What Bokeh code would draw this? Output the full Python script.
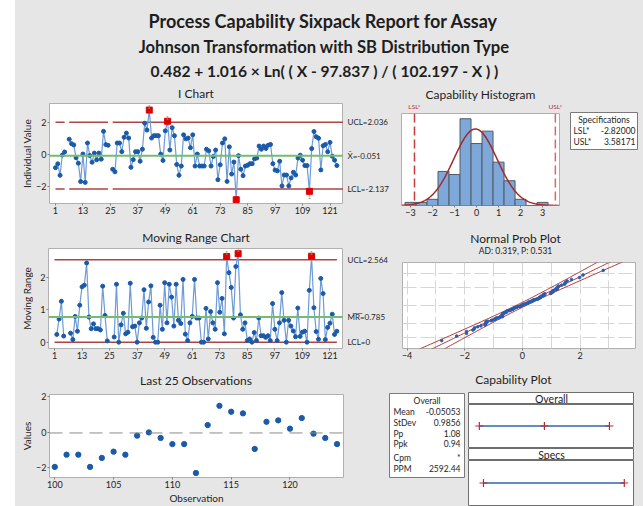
import numpy as np
from statistics import NormalDist
from bokeh.plotting import figure
from bokeh.layouts import column, row
from bokeh.models import Label, Span, FixedTicker, Grid, Range1d
from bokeh.core.properties import value
from bokeh.embed import file_html
from bokeh.resources import INLINE

nan = float("nan")

# ---------------- data ----------------
observation = list(range(1, 125))
transformed_value = [
    -0.80, -0.56, -1.28, -0.01, 0.18, nan, 0.98, 0.70, 0.62, -0.18,
    -0.52, -1.67, 0.05, -1.72, 0.74, -0.04, -0.46, 0.11, -0.31, 0.11,
    -0.27, 1.47, 0.64, 0.60, nan, -0.90, -1.06, 0.74, 0.74, 0.20,
    1.10, 1.36, 1.05, -0.78, -0.30, 0.20, 0.20, -0.40, 0.35, 1.98,
    1.55, 2.80, 1.05, 1.20, 1.20, 1.20, 0.05, -0.35, 1.50, 2.10,
    0.30, 1.70, 1.20, -0.60, -1.28, -0.70, 1.25, 1.00, 1.05, 0.45,
    1.25, -0.70, 0.05, -0.70, -0.70, -0.70, 0.35, 0.25, -0.70, -0.10,
    0.30, -1.55, -0.62, 0.74, 1.00, -1.66, 0.50, -1.20, -0.45, -2.80,
    -0.05, -0.90, -1.30, -0.70, -0.65, -0.55, -0.55, -0.25, -0.20, 0.55,
    0.35, 0.55, 0.40, 0.60, 0.65, -0.55, -0.95, -1.00, -0.40, -1.94,
    -1.26, -1.26, -1.94, -1.44, -1.09, -1.26, -0.20, -0.02, -0.33, -0.67,
    -0.67, -2.28, 0.39, 1.46, 1.13, 1.04, -0.94, 0.57, 0.65, 0.19,
    0.78, -0.09, -0.33, -0.67,
]
i_ucl, i_center, i_lcl = 2.036, -0.051, -2.137
mr_ucl, mr_center, mr_lcl = 2.564, 0.785, 0.0
chart_ticks = [1, 13, 25, 37, 49, 61, 73, 85, 97, 109, 121]
i_yticks = [-2, 0, 2]
mr_yticks = [0, 1, 2]
last_n = 25
last_ticks = [100, 105, 110, 115, 120]
hist_ticks = [-3, -2, -1, 0, 1, 2, 3]
hist_bin_width = 0.5
hist_first_edge = -3.25
hist_bins = 13
prob_ticks = [-4, -2, 0, 2]
prob_vgrid = [-4, -3, -2, -1, 0, 1, 2, 3]
prob_grid_percents = [1, 10, 50, 90, 99]
lsl, usl = -2.82, 3.58171
overall_mean, overall_stdev = -0.05053, 0.9856
pp, ppk, ppm = 1.08, 0.94, 2592.44
ad_stat, p_value = 0.319, 0.531
stat_names = ["Mean", "StDev", "Pp", "Ppk", "Cpm", "PPM"]
stat_texts = [f"{overall_mean:.5f}", f"{overall_stdev:.4f}", f"{pp:.2f}", f"{ppk:.2f}", "*", f"{ppm:.2f}"]

# ---------------- styling ----------------
BG = "#e6e6e6"
FONT = "Lato"
TXT = "#1e1e1e"
LINE_BLUE = "#6c9bd6"
PT_BLUE = "#1a5aa8"
RED_LIM = "#b04444"
GREEN = "#72bd6f"
OOC = "#e00000"
FLAG = "#8c8c64"
FRAME = "#b0b0b0"
UNIT = (0, 1)

vals = np.array(transformed_value, dtype=float)
obs = np.array(observation, dtype=float)
valid = ~np.isnan(vals)


def R(*c):
    return row(*c, styles={"background-color": BG})


def C(*c):
    return column(*c, styles={"background-color": BG})


def mk(w, h, l, r, t, b, xr=UNIT, yr=UNIT, x_loc=None, y_loc=None, bg="white", outline=FRAME, border=BG):
    p = figure(width=w, height=h, x_range=Range1d(*xr), y_range=Range1d(*yr),
               x_axis_location=x_loc, y_axis_location=y_loc,
               output_backend="svg", toolbar_location=None,
               min_border_left=l, min_border_right=r, min_border_top=t, min_border_bottom=b,
               border_fill_color=border, background_fill_color=bg, outline_line_color=outline)
    for g in p.grid:
        g.visible = False
    return p


def strip(w, h, l=0, r=0, t=0, b=0, xr=UNIT):
    return mk(w, h, l, r, t, b, xr, UNIT, bg=BG, outline=None)


def sty(ax, ticks, size="9px"):
    ax.ticker = FixedTicker(ticks=ticks)
    ax.axis_line_color = None
    ax.major_tick_line_color = "#808080"
    ax.major_tick_in = 0
    ax.major_tick_out = 2
    ax.minor_tick_line_color = None
    ax.major_label_text_font = FONT
    ax.major_label_text_font_size = size
    ax.major_label_text_color = TXT
    ax.major_label_standoff = 1
    ax.major_label_orientation = "horizontal"
    ax.axis_label_text_font = FONT
    ax.axis_label_text_font_style = "normal"
    ax.axis_label_text_font_size = "10px"
    ax.axis_label_text_color = TXT
    ax.axis_label_standoff = 1


def xpix(fr, xr, X):
    return xr[0] + (X - fr[0]) / (fr[2] - fr[0]) * (xr[1] - xr[0])


def ypix(fr, yr, Y):
    return yr[1] - (Y - fr[1]) / (fr[3] - fr[1]) * (yr[1] - yr[0])


def lab(p, x, y, s, size="9px", align="center", color=TXT, bold=False, yoff=0):
    p.add_layout(Label(x=x, y=y, text=s, text_font=FONT, text_font_size=size,
                       text_align=align, text_baseline="middle", text_color=color,
                       text_font_style="bold" if bold else "normal", y_offset=yoff))


def txt(p, fr, X, Y, s, xr=UNIT, yr=UNIT, **kw):
    lab(p, xpix(fr, xr, X), ypix(fr, yr, Y), s, **kw)


def ylab_strip(h, t, b, text):
    s = strip(18, h, 0, 0, t, b)
    s.text(x=[xpix((15, 0, 33, 1), UNIT, 26)], y=[0.5], text=[text], angle=np.pi / 2,
           text_font=value(FONT), text_font_size="10px", text_color=TXT,
           text_align="center", text_baseline="middle")
    return s


# ---------------- header ----------------
hdr_fr = (15, 0, 643, 84)
header = strip(628, 84)
txt(header, hdr_fr, 323, 20, "Process Capability Sixpack Report for Assay", size="18px", bold=True)
txt(header, hdr_fr, 324, 46, "Johnson Transformation with SB Distribution Type", size="16.6px", bold=True)
txt(header, hdr_fr, 324, 70, "0.482 + 1.016 \u00d7 Ln( ( X - 97.837 ) / ( 102.197 - X ) )", size="15.6px", bold=True)

# ---------------- I chart ----------------
ic_xr = (-1.61, 126.9)
ic_yr = (-3.04, 3.21)
ic_title = strip(380, 17)
txt(ic_title, (15, 84, 395, 101), 195.5, 93, "I Chart", size="12px")
ic_ylab = ylab_strip(127, 2, 25, "Individual Value")
ichart = mk(310, 127, 15, 0, 2, 25, ic_xr, ic_yr, "below", "left")
sty(ichart.xaxis[0], chart_ticks)
sty(ichart.yaxis[0], i_yticks)
lim_x = list(obs) + [ic_xr[1]]
ichart.line(lim_x, [i_ucl if v else nan for v in valid] + [i_ucl], line_color=RED_LIM, line_width=1.5)
ichart.line(lim_x, [i_lcl if v else nan for v in valid] + [i_lcl], line_color=RED_LIM, line_width=1.5)
ichart.add_layout(Span(location=i_center, dimension="width", line_color=GREEN, line_width=2))
ichart.line(obs, vals, line_color=LINE_BLUE, line_width=1.2)
ichart.scatter(obs[valid], vals[valid], size=4, color=PT_BLUE)
ooc = valid & ((np.nan_to_num(vals) > i_ucl) | (np.nan_to_num(vals) < i_lcl))
ichart.scatter(obs[ooc], vals[ooc], marker="square", size=6, color=OOC)
for x, y in zip(obs[ooc], vals[ooc]):
    lab(ichart, x, y, "1", size="6px", color=FLAG, yoff=3.5 if y > i_ucl else -6)
ic_right = mk(52, 127, 0, 0, 2, 25, UNIT, ic_yr, bg=BG, outline=None)
rx = xpix((343, 0, 395, 1), UNIT, 347)
lab(ic_right, rx, i_ucl, f"UCL={i_ucl:.3f}", size="8px", align="left")
lab(ic_right, rx, i_center, f"X\u0304={i_center:.3f}", size="8px", align="left")
lab(ic_right, rx, i_lcl, f"LCL={i_lcl:.3f}", size="8px", align="left")

# ---------------- Moving range chart ----------------
mr = np.abs(np.diff(vals))
mr_obs = obs[1:]
mr_ok = ~np.isnan(mr)
mr_xr = ic_xr
mr_yr = (-0.196, 2.91)
mr_title = strip(380, 17)
txt(mr_title, (15, 228, 395, 245), 195.5, 237, "Moving Range Chart", size="12px")
mr_ylab = ylab_strip(125, 3, 22, "Moving Range")
mrchart = mk(310, 125, 15, 0, 3, 22, mr_xr, mr_yr, "below", "left")
sty(mrchart.xaxis[0], chart_ticks)
sty(mrchart.yaxis[0], mr_yticks)
mrchart.line([obs[0], obs[-1]], [mr_ucl, mr_ucl], line_color=RED_LIM, line_width=1.5)
mrchart.line([obs[0], obs[-1]], [mr_lcl, mr_lcl], line_color=RED_LIM, line_width=1.5)
mrchart.add_layout(Span(location=mr_center, dimension="width", line_color=GREEN, line_width=2))
mrchart.line(mr_obs, mr, line_color=LINE_BLUE, line_width=1.2)
mrchart.scatter(mr_obs[mr_ok], mr[mr_ok], size=4, color=PT_BLUE)
mr_bad = mr_ok & (np.nan_to_num(mr) > mr_ucl)
mrchart.scatter(mr_obs[mr_bad], mr[mr_bad], marker="square", size=6, color=OOC)
for x, y in zip(mr_obs[mr_bad], mr[mr_bad]):
    lab(mrchart, x, y, "1", size="6px", color=FLAG, yoff=3.5)
mr_right = mk(52, 125, 0, 0, 3, 22, UNIT, mr_yr, bg=BG, outline=None)
lab(mr_right, rx, mr_ucl, f"UCL={mr_ucl:.3f}", size="8px", align="left")
lab(mr_right, rx, mr_center, f"M\u0305R\u0305={mr_center:.3f}", size="8px", align="left")
lab(mr_right, rx, mr_lcl, f"LCL={mr_lcl:.0f}", size="8px", align="left")

# ---------------- Last 25 observations ----------------
l_xr = (99.55, 124.55)
l_yr = (-2.53, 2.09)
l_title = strip(370, 18)
txt(l_title, (15, 370, 385, 388), 195.5, 380, "Last 25 Observations", size="12px")
l_ylab = ylab_strip(118, 6, 29, "Values")
last25 = mk(352, 118, 15, 42, 6, 29, l_xr, l_yr, "below", "left")
sty(last25.xaxis[0], last_ticks)
sty(last25.yaxis[0], i_yticks)
last25.xaxis[0].axis_label = "Observation"
last25.add_layout(Span(location=i_center, dimension="width", line_color="#8a8a8a", line_width=1, line_dash="13 7"))
last25.scatter(obs[-last_n:], vals[-last_n:], size=5.3, color=PT_BLUE)

# ---------------- Capability histogram ----------------
h_fr = (401, 113, 559, 205)
h_xr = (-3.41, 3.77)
h_yr = (0, 29.7)
ht_fr = (395, 84, 643, 110)
ht_xr = (xpix(h_fr, h_xr, 395), xpix(h_fr, h_xr, 643))
h_title = strip(248, 26, xr=ht_xr)
txt(h_title, ht_fr, 480, 94, "Capability Histogram", xr=ht_xr, size="12px")
lab(h_title, lsl, ypix(ht_fr, UNIT, 106), "LSL*", size="6.5px", color="#b03030")
lab(h_title, usl, ypix(ht_fr, UNIT, 106), "USL*", size="6.5px", color="#b03030")
hist = mk(170, 118, 6, 6, 3, 23, h_xr, h_yr, "below", None)
sty(hist.xaxis[0], hist_ticks)
edges = hist_first_edge + hist_bin_width * np.arange(hist_bins + 1)
counts, _ = np.histogram(vals[valid], bins=edges)
hist.quad(left=edges[:-1], right=edges[1:], top=counts, bottom=0,
          fill_color="#7ea7da", line_color="#505a66", line_width=1)
n_valid = int(valid.sum())
nd = NormalDist(overall_mean, overall_stdev)
cx = np.linspace(h_xr[0], h_xr[1], 240)
cy = [n_valid * hist_bin_width * nd.pdf(float(v)) for v in cx]
hist.line(cx, cy, line_color="#a3282a", line_width=1.5)
hist.add_layout(Span(location=lsl, dimension="height", line_color="#c43c3c", line_width=1.5, line_dash="9 4"))
hist.add_layout(Span(location=usl, dimension="height", line_color="#e06464", line_width=1.5, line_dash="9 4"))

s_fr = (570, 112, 637, 149)
spec = mk(78, 118, 5, 6, 2, 79, outline="#7a7a7a")
txt(spec, s_fr, 603.5, 119, "Specifications", size="8.5px")
txt(spec, s_fr, 573, 130, "LSL*", size="8.5px", align="left")
txt(spec, s_fr, 635, 130, f"{lsl:.5f}", size="8.5px", align="right")
txt(spec, s_fr, 573, 141, "USL*", size="8.5px", align="left")
txt(spec, s_fr, 635, 141, f"{usl:.5f}", size="8.5px", align="right")

# ---------------- Normal probability plot ----------------
p_xr = (-4.16, 3.92)
p_yr = (-3.1, 3.1)
p_title = strip(248, 30)
p_tfr = (395, 228, 643, 258)
txt(p_title, p_tfr, 515, 238, "Normal Prob Plot", size="12px")
txt(p_title, p_tfr, 515, 250, f"AD: {ad_stat:.3f}, P: {p_value:.3f}", size="8.5px")
prob = mk(248, 112, 7, 8, 4, 22, p_xr, p_yr, "below", None)
sty(prob.xaxis[0], prob_ticks)
std = NormalDist()
prob.add_layout(Grid(dimension=0, ticker=FixedTicker(ticks=prob_vgrid), grid_line_color="#d6d6d6", grid_line_dash="14 4"))
prob.add_layout(Grid(dimension=1, ticker=FixedTicker(ticks=[std.inv_cdf(q / 100) for q in prob_grid_percents]),
                     grid_line_color="#d6d6d6", grid_line_dash="14 4"))
srt = np.sort(vals[valid])
zq = [std.inv_cdf((i - 0.3) / (n_valid + 0.4)) for i in range(1, n_valid + 1)]
zs = np.linspace(p_yr[0] - 0.3, p_yr[1] + 0.3, 80)
fit = overall_mean + overall_stdev * zs
half = 1.96 * overall_stdev * np.sqrt(1.0 / n_valid + zs ** 2 / (2.0 * (n_valid - 1)))
for xline in (fit - half, fit, fit + half):
    prob.line(xline, zs, line_color="#b03a3a", line_width=1)
prob.scatter(srt, zq, size=2.6, color="#2a5db0")

# ---------------- Capability plot ----------------
capt = strip(258, 17)
txt(capt, (385, 370, 643, 387), 513, 379, "Capability Plot", size="12px")

t_fr = (389, 393, 464, 477)
table = mk(81, 119, 4, 2, 6, 29, outline="#7a7a7a")
txt(table, t_fr, 426.5, 400, "Overall", size="8.5px")
for name, s, Y in zip(stat_names, stat_texts, [411, 422, 433, 443, 457, 468]):
    txt(table, t_fr, 393, Y, name, size="8.5px", align="left")
    txt(table, t_fr, 460, Y, s, size="8.5px", align="right")

c_xr = (-3.5, 4.0)
ov_strip = mk(177, 17, 2, 10, 5, 0, c_xr, UNIT, outline="#6e6e6e")
txt(ov_strip, (468, 392, 633, 404), 551, 398, "Overall", xr=c_xr, size="10.5px")
ov_body = mk(177, 44, 2, 10, 0, 1, c_xr, UNIT, outline="#6e6e6e")
ov_x = [overall_mean - 3 * overall_stdev, overall_mean, overall_mean + 3 * overall_stdev]
ov_body.line([ov_x[0], ov_x[-1]], [0.5, 0.5], line_color="#2f66b3", line_width=1.5)
ov_body.scatter(ov_x, [0.5] * 3, marker="cross", size=8, line_color="#b03030", line_width=1.2)
sp_strip = mk(177, 12, 2, 10, 0, 0, c_xr, UNIT, outline="#6e6e6e")
txt(sp_strip, (468, 448, 633, 460), 551, 454, "Specs", xr=c_xr, size="10.5px")
sp_body = mk(177, 46, 2, 10, 0, 1, c_xr, UNIT, outline="#6e6e6e")
sp_body.line([lsl, usl], [0.5, 0.5], line_color="#2f66b3", line_width=1.5)
sp_body.scatter([lsl, usl], [0.5, 0.5], marker="cross", size=8, line_color="#b03030", line_width=1.2)

# ---------------- layout ----------------
margin = mk(15, 506, 0, 0, 0, 0, bg="white", outline=None, border="white")
row_a = R(C(ic_title, R(ic_ylab, ichart, ic_right)), C(h_title, R(C(hist), C(spec))))
row_b = R(C(mr_title, R(mr_ylab, mrchart, mr_right)), C(p_title, C(prob)))
row_c = R(C(l_title, R(l_ylab, last25)),
          C(capt, R(C(table), C(ov_strip, ov_body, sp_strip, sp_body))))
page = row(margin, C(header, row_a, row_b, row_c))

open("out.html", "w").write(file_html(page, INLINE))
